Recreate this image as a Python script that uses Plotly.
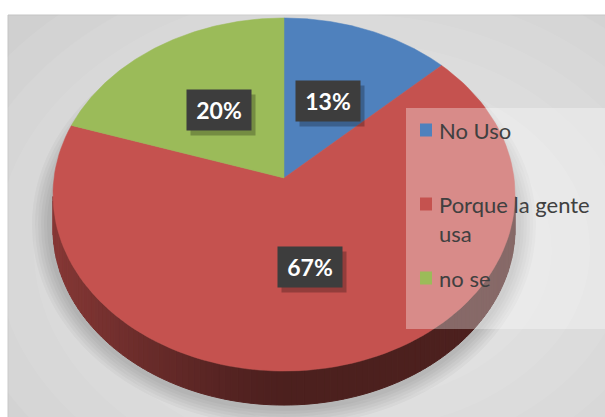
import numpy as np
import plotly.graph_objects as go

categories = ["No Uso", "Porque la gente usa", "no se"]
values = [13, 67, 20]
colors = ["#4f81bd", "#c5524f", "#9bbb59"]
side_rgb = [(79, 129, 189), (192, 80, 77), (155, 187, 89)]

W, H = 605, 417
CX, CY = 284, 178
RX, RY = 230, 175
K = 0.0935
DEPTH = 34
FONT = "Lato"


def proj(theta, f=1.0):
    s, c = np.sin(theta), np.cos(theta)
    d = 1 + K * f * c
    return CX + RX * f * s / d, CY - RY * f * c / d


total = float(sum(values))
bounds = np.concatenate([[0.0], np.cumsum(values) / total * 2 * np.pi])

fig = go.Figure()
shapes = []

# chart area background
shapes.append(dict(type="rect", x0=8, y0=15, x1=W + 2, y1=H + 2, fillcolor="#d0d0d0",
                   line=dict(color="#c4c4c4", width=1), layer="below"))
for i in range(9):
    rx = 430 - i * 38
    ry = 320 - i * 28
    shapes.append(dict(type="circle", x0=350 - rx, x1=350 + rx, y0=250 - ry, y1=250 + ry,
                       fillcolor="rgba(255,255,255,0.07)", line=dict(width=0), layer="below"))
# soft shadow around the lower part of the pie
for i in range(6):
    g = 16 - i * 3
    shapes.append(dict(type="circle", x0=CX - 236 - g, x1=CX + 236 + g,
                       y0=40 - g, y1=CY + 232 + g,
                       fillcolor="rgba(0,0,0,0.03)", line=dict(width=0), layer="below"))

# side of the pie
N = 240
th = np.linspace(0, 2 * np.pi, N + 1)
xs, ys = proj(th)
xmin = xs.min()
for i in range(N):
    if xs[i + 1] >= xs[i]:
        continue
    mid = 0.5 * (th[i] + th[i + 1])
    k = int(np.searchsorted(bounds, mid) - 1)
    k = max(0, min(k, len(values) - 1))
    xm = 0.5 * (xs[i] + xs[i + 1])
    t = max(0.0, (CX - xm) / (CX - xmin))
    fac = 0.40 + 0.30 * t ** 1.3
    r, g_, b = side_rgb[k]
    col = f"rgb({int(r * fac)},{int(g_ * fac)},{int(b * fac)})"
    px = [xs[i], xs[i + 1], xs[i + 1], xs[i], xs[i]]
    py = [ys[i], ys[i + 1], ys[i + 1] + DEPTH, ys[i] + DEPTH, ys[i]]
    fig.add_trace(go.Scatter(x=px, y=py, mode="lines", fill="toself", fillcolor=col,
                             line=dict(color=col, width=1), hoverinfo="skip", showlegend=False))

# top faces
for k in range(len(values)):
    a = np.linspace(bounds[k], bounds[k + 1], 120)
    ax, ay = proj(a)
    px = np.concatenate([[CX], ax, [CX]])
    py = np.concatenate([[CY], ay, [CY]])
    fig.add_trace(go.Scatter(x=px, y=py, mode="lines", fill="toself", fillcolor=colors[k],
                             line=dict(color=colors[k], width=0.5), hoverinfo="skip",
                             showlegend=False, name=categories[k]))

annotations = []
for k in range(len(values)):
    mid = 0.5 * (bounds[k] + bounds[k + 1])
    lx, ly = proj(mid, 0.5)
    txt = f"{round(values[k] / total * 100)}%"
    annotations.append(dict(x=lx, y=ly, xref="x", yref="y", text=" ", showarrow=False,
                            width=64, height=40, bgcolor="rgba(0,0,0,0.25)",
                            xshift=4, yshift=-5, borderpad=0))
    annotations.append(dict(x=lx, y=ly, xref="x", yref="y", text=f"<b>{txt}</b>",
                            showarrow=False, width=64, height=40, bgcolor="#3d3d3d",
                            borderpad=0, font=dict(family=FONT, size=23, color="white")))

# legend box
shapes.append(dict(type="rect", x0=406, y0=108, x1=W + 2, y1=329,
                   fillcolor="rgba(255,255,255,0.33)", line=dict(width=0)))
leg_rows = [130, 204, 278]
for k, name in enumerate(categories):
    yc = leg_rows[k]
    shapes.append(dict(type="rect", x0=420, x1=432, y0=yc - 6.5, y1=yc + 6.5,
                       fillcolor=colors[k], line=dict(width=0)))
    words = name.split(" ")
    lines, cur = [], ""
    for w in words:
        if cur and len(cur) + 1 + len(w) > 15:
            lines.append(cur)
            cur = w
        else:
            cur = (cur + " " + w).strip()
    lines.append(cur)
    for j, ln in enumerate(lines):
        annotations.append(dict(x=437, y=yc + j * 29, xref="x", yref="y", text=ln,
                                showarrow=False, xanchor="left", yanchor="middle",
                                font=dict(family=FONT, size=22, color="#404040")))

fig.update_layout(
    width=W, height=H, margin=dict(l=0, r=0, t=0, b=0),
    paper_bgcolor="white", plot_bgcolor="white",
    xaxis=dict(range=[0, W], visible=False, fixedrange=True),
    yaxis=dict(range=[H, 0], visible=False, fixedrange=True),
    shapes=shapes, annotations=annotations, showlegend=False,
)
fig.write_html("out.html", config={"displayModeBar": False},
               post_script="document.body.style.margin='0';document.body.style.overflow='hidden';")
